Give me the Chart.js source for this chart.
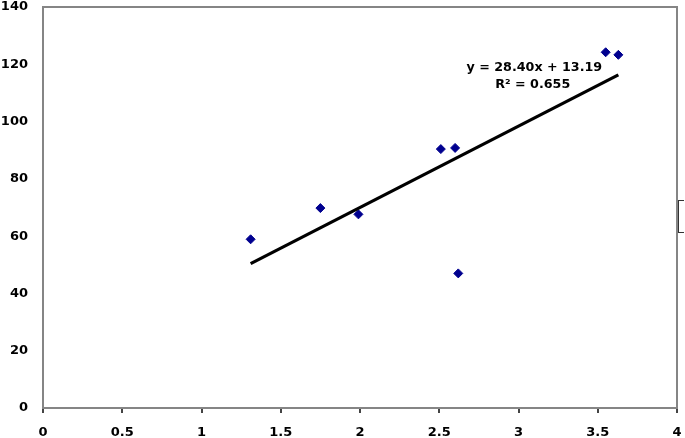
<!DOCTYPE html>
<html>
<head>
<meta charset="utf-8">
<script src="https://cdn.jsdelivr.net/npm/chart.js@4/dist/chart.umd.min.js"></script>
<style>
body { margin: 0; background: #fff; }
#wrap { position: relative; width: 685px; height: 438px; }
#mark { position: absolute; left: 678px; top: 200px; width: 5px; height: 31px; border: 1px solid #333; border-right: none; }
</style>
</head>
<body>
<div id="wrap">
<canvas id="chart" width="685" height="438"></canvas>
<div id="mark"></div>
</div>
<script>
// values
var xValues = [1.31, 1.75, 1.99, 2.62, 2.51, 2.60, 3.55, 3.63];
var yValues = [58.9, 69.8, 67.6, 47.0, 90.4, 90.8, 124.2, 123.3];
var trendX = [1.31, 3.63];
var trendY = [50.4, 116.3];
var xTicks = [0, 0.5, 1, 1.5, 2, 2.5, 3, 3.5, 4];
var yTicks = [0, 20, 40, 60, 80, 100, 120, 140];
var equationLines = ["y = 28.40x + 13.19", "R\u00b2 = 0.655"];

function toPoints(xs, ys){
    var pts = [];
    for (var i = 0; i < xs.length; i++){
        pts.push({x: xs[i], y: ys[i]});
    }
    return pts;
}

var tickFont = {family: 'DejaVu Sans', weight: 'bold', size: 13};

var framePlugin = {
    id: 'frame',
    beforeDatasetsDraw: function(chart){
        var a = chart.chartArea;
        var ctx = chart.ctx;
        ctx.save();
        ctx.strokeStyle = '#858585';
        ctx.lineWidth = 2;
        ctx.strokeRect(a.left, a.top, a.right - a.left, a.bottom - a.top);
        ctx.restore();
    },
    afterDatasetsDraw: function(chart){
        var ctx = chart.ctx;
        var xs = chart.scales.x, ys = chart.scales.y;
        ctx.save();
        ctx.fillStyle = '#000';
        ctx.font = 'bold 12.7px "DejaVu Sans"';
        ctx.textAlign = 'center';
        ctx.textBaseline = 'middle';
        ctx.fillText(equationLines[0], xs.getPixelForValue(3.10), ys.getPixelForValue(118.8));
        ctx.fillText(equationLines[1], xs.getPixelForValue(3.09), ys.getPixelForValue(112.9));
        ctx.restore();
    }
};

var ctx = document.getElementById('chart').getContext('2d');
var chart = new Chart(ctx, {
    type: 'scatter',
    data: {
        datasets: [
            {
                type: 'line',
                data: toPoints(trendX, trendY),
                borderColor: '#000',
                borderWidth: 3.2,
                pointRadius: 0,
                fill: false
            },
            {
                data: toPoints(xValues, yValues),
                pointStyle: 'rectRot',
                pointRadius: 4.5,
                borderWidth: 1,
                backgroundColor: '#00008f',
                borderColor: '#00008f'
            }
        ]
    },
    options: {
        responsive: false,
        animation: false,
        devicePixelRatio: 1,
        layout: {padding: {top: 7, right: 8, left: 0, bottom: 0}},
        plugins: {legend: {display: false}, tooltip: {enabled: false}},
        scales: {
            x: {
                type: 'linear',
                min: 0,
                max: 4,
                afterBuildTicks: function(scale){
                    scale.ticks = xTicks.map(function(v){ return {value: v}; });
                },
                afterFit: function(scale){
                    scale.height = 30;
                    scale.paddingLeft = 0;
                    scale.paddingRight = 0;
                },
                border: {color: '#777', width: 2},
                grid: {drawOnChartArea: false, drawTicks: true, tickLength: 5, color: '#444', lineWidth: 2},
                ticks: {
                    font: tickFont, color: '#000', padding: 12, maxRotation: 0, autoSkip: false,
                    callback: function(v){ return String(v); }
                }
            },
            y: {
                type: 'linear',
                min: 0,
                max: 140,
                afterBuildTicks: function(scale){
                    scale.ticks = yTicks.map(function(v){ return {value: v}; });
                },
                afterFit: function(scale){
                    scale.width = 43;
                    scale.paddingTop = 0;
                    scale.paddingBottom = 0;
                },
                border: {color: '#858585', width: 2},
                grid: {drawOnChartArea: false, drawTicks: false},
                ticks: {font: tickFont, color: '#000', padding: 15}
            }
        }
    },
    plugins: [framePlugin]
});
</script>
</body>
</html>
